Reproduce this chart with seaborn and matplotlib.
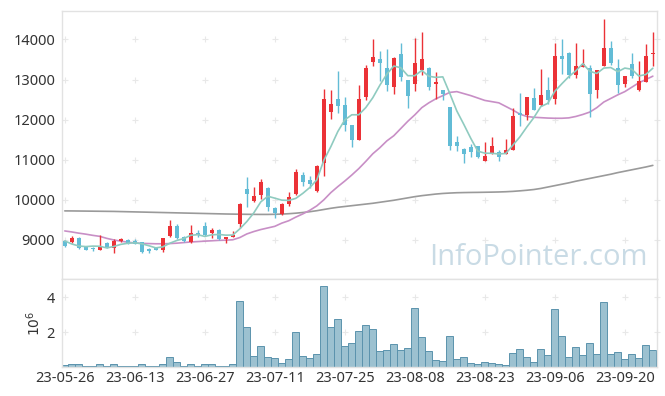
import numpy as np
import seaborn as sns
import matplotlib.pyplot as plt

# daily candles, 85 trading days
opens = [8983, 8958, 9050, 8825, 8800, 8758, 8925, 8808, 8975, 9000,
         8975, 8950, 8783, 8817, 8758, 9100, 9358, 9067, 8958, 9167,
         9350, 9183, 9250, 9025, 9083, 9400, 10275, 9975, 10125, 10308,
         9800, 9658, 9900, 10150, 10625, 10500, 10233, 10917, 12183, 12525,
         12375, 11875, 11500, 12558, 13450, 13525, 13300, 12808, 13650, 13000,
         12883, 13233, 13300, 12892, 12733, 12325, 11450, 11275, 11325, 11333,
         10958, 11167, 11200, 11142, 11233, 12167, 12108, 12550, 12375, 12733,
         12517, 13600, 13675, 13125, 13308, 13292, 12733, 13350, 13792, 13292,
         12883, 13400, 12750, 12933, 13640]
highs = [9000, 9100, 9067, 8858, 8833, 9117, 8958, 9017, 9058, 9025,
         9017, 8958, 8800, 8825, 9042, 9500, 9392, 9100, 9367, 9250,
         9442, 9300, 9267, 9075, 9233, 9933, 10575, 10325, 10525, 10333,
         9833, 9933, 10208, 10775, 10683, 10583, 10875, 12767, 12750, 13225,
         12567, 11875, 12867, 13367, 14017, 13717, 13767, 13567, 13917, 13000,
         14025, 14192, 13317, 13192, 12750, 12325, 11583, 11292, 11400, 11333,
         11433, 11567, 11233, 11517, 12292, 12667, 12575, 12792, 13267, 13067,
         13900, 14017, 13700, 13917, 13767, 13375, 13250, 14517, 13958, 13508,
         13100, 13667, 13458, 13875, 14192]
lows = [8817, 8917, 8783, 8742, 8733, 8750, 8792, 8683, 8942, 8900,
        8892, 8683, 8683, 8750, 8700, 9067, 9033, 8958, 8933, 9067,
        9108, 9042, 9000, 8933, 9067, 9292, 9825, 9958, 10025, 9733,
        9542, 9625, 9850, 10125, 10350, 10300, 10208, 10600, 12017, 12167,
        11708, 11317, 11483, 12500, 13350, 12958, 12708, 12650, 12958, 12292,
        12708, 13125, 12750, 12517, 12500, 11250, 11225, 10917, 11058, 11042,
        10958, 11150, 10958, 11142, 11233, 11833, 12000, 12233, 12333, 12400,
        12383, 13150, 13050, 13050, 13308, 12075, 12542, 13350, 13375, 12667,
        12820, 13042, 12708, 12933, 13333]
closes = [8858, 9042, 8800, 8758, 8775, 8842, 8833, 8975, 9025, 8917,
          8900, 8708, 8733, 8758, 9042, 9350, 9050, 8975, 9167, 9117,
          9133, 9250, 9025, 9075, 9133, 9900, 10158, 10108, 10450, 9833,
          9667, 9908, 10075, 10700, 10458, 10400, 10850, 12517, 12400, 12350,
          11858, 11483, 12525, 13292, 13575, 13408, 12875, 13542, 13075, 12583,
          13408, 13525, 12825, 12933, 12650, 11333, 11350, 11150, 11183, 11058,
          11083, 11333, 11067, 11250, 12083, 12108, 12567, 12233, 12625, 12500,
          13600, 13517, 13125, 13350, 13392, 12650, 13250, 13792, 13417, 12875,
          13100, 13100, 12958, 13600, 13660]

# moving averages
ma5 = [8975, 8900, 8850, 8835, 8847, 8843, 8802, 8837, 8890, 8918,
       8930, 8905, 8857, 8803, 8828, 8918, 8987, 9035, 9117, 9132,
       9088, 9128, 9138, 9120, 9123, 9277, 9458, 9675, 9950, 10090,
       10043, 9993, 9987, 10037, 10162, 10308, 10497, 10985, 11325, 11703,
       11995, 12122, 12123, 12302, 12547, 12857, 13135, 13338, 13295, 13097,
       13097, 13227, 13083, 13055, 13068, 12653, 12218, 11883, 11533, 11215,
       11165, 11161, 11145, 11158, 11363, 11568, 11817, 12050, 12325, 12408,
       12707, 12895, 13073, 13218, 13397, 13207, 13153, 13287, 13300, 13197,
       13287, 13257, 13090, 13127, 13283]
ma20 = [9225, 9200, 9170, 9145, 9115, 9090, 9040, 9000, 8970, 8945,
        8925, 8915, 8910, 8905, 8905, 8910, 8920, 8935, 8950, 8960,
        8970, 8980, 8990, 8995, 9005, 9060, 9150, 9210, 9260, 9300,
        9340, 9420, 9480, 9570, 9650, 9740, 9850, 10000, 10180, 10330,
        10470, 10620, 10780, 10960, 11150, 11300, 11470, 11600, 11780, 11960,
        12120, 12300, 12420, 12520, 12600, 12680, 12700, 12650, 12600, 12540,
        12480, 12450, 12420, 12330, 12240, 12140, 12080, 12060, 12050, 12040,
        12035, 12035, 12045, 12080, 12130, 12190, 12300, 12440, 12530, 12620,
        12700, 12810, 12920, 13000, 13085]
ma120 = [9725, 9724, 9722, 9720, 9718, 9716, 9714, 9712, 9708, 9704,
         9700, 9696, 9692, 9688, 9684, 9680, 9676, 9672, 9668, 9664,
         9660, 9656, 9652, 9648, 9645, 9642, 9640, 9638, 9637, 9637,
         9640, 9645, 9655, 9668, 9685, 9705, 9730, 9760, 9790, 9815,
         9835, 9855, 9875, 9895, 9915, 9940, 9965, 9990, 10020, 10050,
         10080, 10105, 10125, 10145, 10160, 10170, 10178, 10182, 10185, 10187,
         10190, 10193, 10197, 10203, 10212, 10225, 10240, 10258, 10285, 10320,
         10355, 10390, 10425, 10465, 10500, 10535, 10570, 10605, 10640, 10680,
         10715, 10750, 10785, 10820, 10860]

# volume, millions of shares
volume = [0.10, 0.15, 0.15, 0.08, 0.08, 0.20, 0.08, 0.20, 0.08, 0.08,
          0.08, 0.20, 0.08, 0.08, 0.20, 0.55, 0.28, 0.08, 0.20, 0.08,
          0.20, 0.15, 0.08, 0.08, 0.20, 3.79, 2.30, 0.65, 1.22, 0.59,
          0.53, 0.25, 0.48, 2.02, 0.65, 0.53, 0.76, 4.65, 2.30, 2.76,
          1.22, 1.39, 2.08, 2.42, 2.19, 0.93, 0.99, 1.33, 0.99, 1.10,
          3.39, 1.73, 0.93, 0.42, 0.36, 1.79, 0.48, 0.59, 0.25, 0.19,
          0.30, 0.25, 0.19, 0.13, 0.82, 1.05, 0.59, 0.30, 1.05, 0.70,
          3.33, 1.79, 0.59, 1.16, 0.70, 1.39, 0.76, 3.73, 0.76, 0.88,
          0.48, 0.76, 0.53, 1.28, 0.99]

date_labels = ['23-05-26', '23-06-13', '23-06-27', '23-07-11', '23-07-25',
               '23-08-08', '23-08-23', '23-09-06', '23-09-20']
price_ticks = [9000, 10000, 11000, 12000, 13000, 14000]
vol_ticks = [2, 4]

sns.set_style('white')
plt.rcParams['font.family'] = ['Noto Sans', 'DejaVu Sans']

idx = np.arange(len(closes))
o = np.array(opens)
c = np.array(closes)
up = c >= o
RED, BLUE = '#eb3237', '#62bcd6'
cols = np.where(up, RED, BLUE)
xticks = np.arange(0, len(date_labels) * 10, 10)
GRID = '#e8e8e8'
SPINE = '#e2e2e2'

fig = plt.figure(figsize=(6.65, 3.96), dpi=100)
ax = fig.add_axes([0.0932, 0.2955, 0.8948, 0.6775])
axv = fig.add_axes([0.0932, 0.0732, 0.8948, 0.2222], sharex=ax)

# grid drawn as plus marks at tick crossings
gx, gy = np.meshgrid(np.append(xticks, 84.6), price_ticks)
ax.scatter(gx.ravel(), gy.ravel(), marker='+', s=16, color=GRID, lw=0.8, zorder=0, clip_on=False)
gx, gy = np.meshgrid(np.append(xticks, 84.6), vol_ticks)
axv.scatter(gx.ravel(), gy.ravel(), marker='+', s=16, color=GRID, lw=0.8, zorder=0, clip_on=False)

# moving averages
sns.lineplot(x=idx, y=ma120, ax=ax, color='#9a9a9a', lw=1.2, zorder=2)
sns.lineplot(x=idx, y=ma20, ax=ax, color='#c88fc6', lw=1.2, zorder=2)
sns.lineplot(x=idx, y=ma5, ax=ax, color='#8fcbc0', lw=1.2, zorder=4)

# candles
ax.vlines(idx, lows, highs, colors=cols, lw=1.0, zorder=3)
body = np.maximum(np.abs(c - o), 20)
ax.bar(idx, body, bottom=np.minimum(o, c), width=0.58, color=cols, lw=0, zorder=3)

ax.text(0.985, 0.08, 'InfoPointer.com', transform=ax.transAxes, ha='right', va='center',
        fontsize=21, color='#c9dbe5', family=['Open Sans', 'DejaVu Sans'], zorder=1)

ax.set_xlim(-0.4, 84.6)
ax.set_ylim(8027, 14718)
ax.set_yticks(price_ticks)
ax.tick_params(axis='y', length=0, labelsize=10.5, labelcolor='#333333', pad=5)
ax.tick_params(axis='x', length=0, labelbottom=False)

# volume
sns.barplot(x=idx, y=volume, ax=axv, native_scale=True, width=1.0, color='#9cc1d0',
            saturation=1, edgecolor='#5b93ad', linewidth=0.7, zorder=2)
axv.set_ylim(0, 5.05)
axv.set_yticks(vol_ticks)
axv.set_xticks(xticks)
axv.set_xticklabels(date_labels)
axv.set_xlim(-0.4, 84.6)
axv.tick_params(axis='y', length=0, labelsize=10.5, labelcolor='#333333', pad=5)
axv.tick_params(axis='x', length=0, labelsize=10.5, labelcolor='#333333', pad=3)
axv.set_ylabel(r'$10^6$', fontsize=10, color='#333333', labelpad=2)

for a in (ax, axv):
    for s in a.spines.values():
        s.set_color(SPINE)
        s.set_linewidth(1.0)

fig.savefig('out.png', dpi=100)
